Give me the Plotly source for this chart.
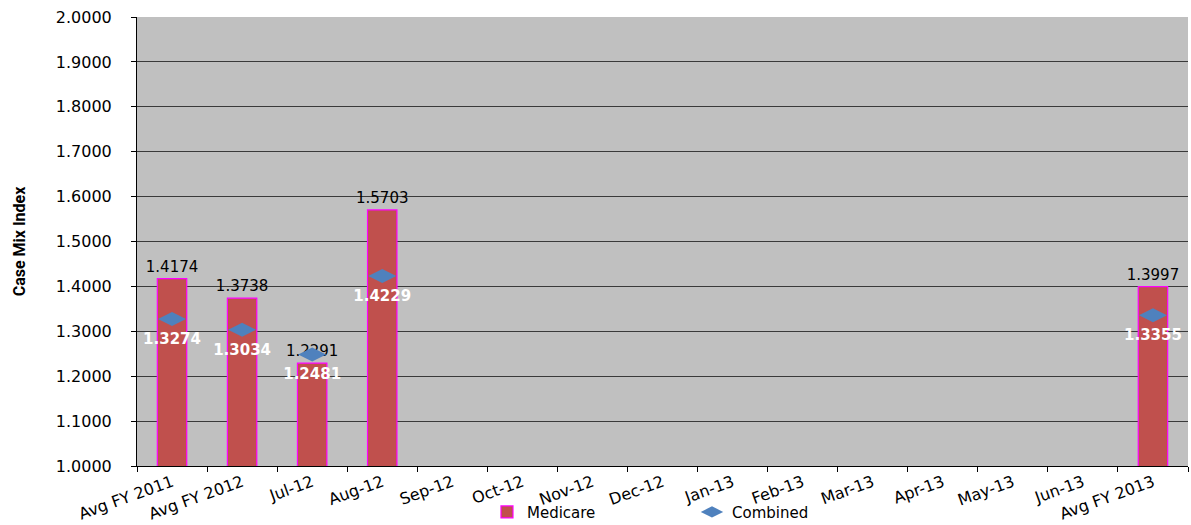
import plotly.graph_objects as go

categories = ["Avg FY 2011", "Avg FY 2012", "Jul-12", "Aug-12", "Sep-12", "Oct-12",
              "Nov-12", "Dec-12", "Jan-13", "Feb-13", "Mar-13", "Apr-13",
              "May-13", "Jun-13", "Avg FY 2013"]
medicare = [1.4174, 1.3738, 1.2291, 1.5703, None, None, None, None, None, None,
            None, None, None, None, 1.3997]
combined = [1.3274, 1.3034, 1.2481, 1.4229, None, None, None, None, None, None,
            None, None, None, None, 1.3355]
y_ticks = [1.0 + 0.1 * i for i in range(11)]

FONT = "DejaVu Sans, Verdana, sans-serif"

fig = go.Figure()
fig.add_trace(go.Bar(
    x=categories, y=medicare, name="Medicare",
    marker=dict(color="#C0504D", line=dict(color="#FF00FF", width=1.2)),
    text=[f"{v:.4f}" if v is not None else "" for v in medicare],
    textposition="outside", cliponaxis=False, constraintext="none",
    textfont=dict(family=FONT, size=15, color="#000000"),
))
fig.add_trace(go.Scatter(
    x=categories, y=combined, name="Combined", mode="markers+text",
    marker=dict(symbol="diamond-wide", size=20, color="#4F81BD"),
    text=[f"{v:.4f}" if v is not None else "" for v in combined],
    textposition="bottom center", cliponaxis=False,
    textfont=dict(family=FONT, size=15, color="#FFFFFF", weight="bold"),
))

fig.update_layout(
    width=1191, height=525,
    margin=dict(l=137, r=3, t=17, b=59, autoexpand=False),
    paper_bgcolor="#FFFFFF", plot_bgcolor="#C0C0C0",
    bargap=0.58,
    showlegend=True,
    legend=dict(orientation="h", x=0.333, y=-0.066, xanchor="left", yanchor="top",
                font=dict(family=FONT, size=15, color="#000000"),
                itemwidth=30, entrywidth=160, entrywidthmode="pixels",
                bgcolor="rgba(0,0,0,0)"),
    font=dict(family=FONT, size=15, color="#000000"),
)
fig.update_xaxes(
    type="category", range=[-0.5, 14.5], tickangle=-20, tickson="boundaries",
    ticks="outside", ticklen=5, tickcolor="#000000",
    showline=True, linecolor="#000000", linewidth=1,
    showgrid=False, tickfont=dict(family=FONT, size=16, color="#000000"),
)
fig.update_yaxes(
    range=[1.0, 2.0], tickvals=y_ticks, tickformat=".4f",
    ticks="outside", ticklen=5, tickcolor="#000000", ticklabelstandoff=16,
    showline=True, linecolor="#000000", linewidth=1,
    showgrid=True, gridcolor="#3a3a3a", gridwidth=1,
    tickfont=dict(family=FONT, size=16, color="#000000"),
    title=dict(text="Case Mix Index", standoff=26,
               font=dict(family="Liberation Sans Narrow, Arial Narrow, Roboto, sans-serif",
                         size=16, color="#000000", weight="bold")),
)

fig.write_html("out.html")
